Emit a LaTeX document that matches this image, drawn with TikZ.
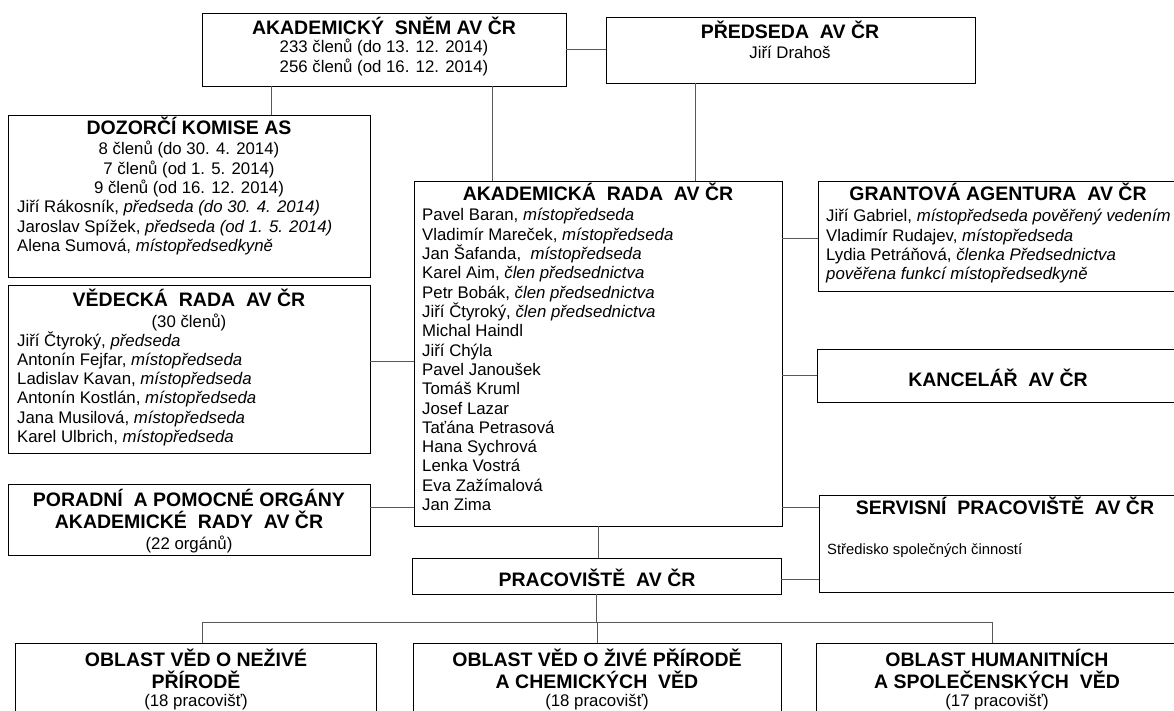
\documentclass[tikz,border=0pt]{standalone}
\usepackage{fontspec}
\setmainfont{Liberation Sans}
\usetikzlibrary{shadows}
\newcommand{\mylines}[5]{%
  \foreach \myline [count=\i from 0] in {#5} {%
    \node[txt, anchor=#4] (#1\i) at (#2, #3+19.3*\i) {\myline};}}
\begin{document}
\begin{tikzpicture}[x=1pt,y=-1pt,
  box/.style={draw=black, line width=0.9pt, fill=white, inner sep=0pt, outer sep=0pt,
    drop shadow={shadow xshift=1.3pt, shadow yshift=-1.3pt, fill=black!60, opacity=1}},
  conn/.style={draw=black!65, line width=0.9pt},
  ttl/.style={inner sep=0pt, font=\fontsize{19.5}{22}\bfseries\selectfont},
  txt/.style={inner sep=0pt, font=\fontsize{16.8}{19.3}\selectfont},
  small/.style={inner sep=0pt, font=\fontsize{14.8}{17}\selectfont}]
\useasboundingbox (0,0) rectangle (1174,711);
\fill[white] (0,0) rectangle (1174,711);

% boxes
\node[box, minimum width=364pt, minimum height=73pt] (snem) at (384,49.5) {};
\node[box, minimum width=369pt, minimum height=66pt] (pred) at (790.5,50) {};
\node[box, minimum width=362pt, minimum height=162pt] (dozor) at (189,196) {};
\node[box, minimum width=368pt, minimum height=345pt] (ar) at (598,353.5) {};
\node[box, minimum width=362pt, minimum height=110pt] (grant) at (999,236) {};
\node[box, minimum width=362pt, minimum height=168pt] (ved) at (189,369) {};
\node[box, minimum width=362pt, minimum height=71pt] (porad) at (189,519.5) {};
\node[box, minimum width=363pt, minimum height=53pt] (kanc) at (998.5,375.5) {};
\node[box, minimum width=361pt, minimum height=97pt] (serv) at (999.5,543.5) {};
\node[box, minimum width=369pt, minimum height=36pt] (prac) at (596.5,576) {};
\node[box, minimum width=361pt, minimum height=77pt] (ob1) at (195.5,681.5) {};
\node[box, minimum width=368pt, minimum height=77pt] (ob2) at (597,681.5) {};
\node[box, minimum width=364pt, minimum height=77pt] (ob3) at (998,681.5) {};

% helper coordinates
\coordinate (xa) at (271,0);
\coordinate (xb) at (492,0);
\coordinate (xc) at (695,0);
\coordinate (xl) at (202,0);
\coordinate (xr) at (992,0);
\coordinate (yg) at (0,238);
\coordinate (yv) at (0,361);
\coordinate (yp) at (0,507);
\coordinate (ys) at (0,579);
\coordinate (bus) at (597,622);

% connectors
\draw[conn] (snem.east) -- (snem.east -| pred.west);
\draw[conn] (snem.south -| xa) -- (dozor.north -| xa);
\draw[conn] (snem.south -| xb) -- (ar.north -| xb);
\draw[conn] (pred.south -| xc) -- (ar.north -| xc);
\draw[conn] (ar.east |- yg) -- (grant.west |- yg);
\draw[conn] (ar.east |- kanc.west) -- (kanc.west);
\draw[conn] (ved.east |- yv) -- (ar.west |- yv);
\draw[conn] (porad.east |- yp) -- (ar.west |- yp);
\draw[conn] (ar.east |- yp) -- (serv.west |- yp);
\draw[conn] (prac.east |- ys) -- (serv.west |- ys);
\draw[conn] (ar.south) -- (ar.south |- prac.north);
\draw[conn] (prac.south) -- (prac.south |- bus);
\draw[conn] (bus -| xl) -- (bus -| xr);
\draw[conn] (bus -| xl) -- (ob1.north -| xl);
\draw[conn] (bus) -- (ob2.north |- bus) -- (ob2.north);
\draw[conn] (bus -| xr) -- (ob3.north -| xr);

% texts
\node[ttl, anchor=base] (snemT) at (384,35) {AKADEMICKÝ~ SNĚM AV ČR};
\node[txt, anchor=base] (snem1) at (384,53) {233 členů (do 13. 12. 2014)};
\node[txt, anchor=base] (snem2) at (384,73) {256 členů (od 16. 12. 2014)};

\node[ttl, anchor=base] (predT) at (790,39) {PŘEDSEDA~ AV ČR};
\node[txt, anchor=base] (pred1) at (790,59) {Jiří Drahoš};

\node[ttl, anchor=base] (dozorT) at (189,135) {DOZORČÍ KOMISE AS};
\mylines{dozc}{189}{155}{base}{{8 členů (do 30. 4. 2014)},{7 členů (od 1. 5. 2014)},{9 členů (od 16. 12. 2014)}}
\mylines{dozl}{17}{212.9}{base west}{{Jiří Rákosník, \textit{předseda (do 30. 4. 2014)}},{Jaroslav Spížek, \textit{předseda (od 1. 5. 2014)}},{Alena Sumová, \textit{místopředsedkyně}}}

\node[ttl, anchor=base] (vedT) at (189,306) {VĚDECKÁ~ RADA~ AV ČR};
\node[txt, anchor=base] (ved0) at (189,327) {(30 členů)};
\mylines{vedl}{17}{346}{base west}{{Jiří Čtyroký, \textit{předseda}},{Antonín Fejfar, \textit{místopředseda}},{Ladislav Kavan, \textit{místopředseda}},{Antonín Kostlán, \textit{místopředseda}},{Jana Musilová, \textit{místopředseda}},{Karel Ulbrich, \textit{místopředseda}}}

\node[ttl, anchor=base] (poradT1) at (189,506) {PORADNÍ~ A POMOCNÉ ORGÁNY};
\node[ttl, anchor=base] (poradT2) at (189,528) {AKADEMICKÉ~ RADY~ AV ČR};
\node[txt, anchor=base] (porad1) at (189,549) {(22 orgánů)};

\node[ttl, anchor=base] (arT) at (598,201) {AKADEMICKÁ~ RADA~ AV ČR};
\mylines{arl}{422}{221}{base west}{{Pavel Baran, \textit{místopředseda}},{Vladimír Mareček, \textit{místopředseda}},{Jan Šafanda,~ \textit{místopředseda}},{Karel Aim, \textit{člen předsednictva}},{Petr Bobák, \textit{člen předsednictva}},{Jiří Čtyroký, \textit{člen předsednictva}},{Michal Haindl},{Jiří Chýla},{Pavel Janoušek},{Tomáš Kruml},{Josef Lazar},{Taťána Petrasová},{Hana Sychrová},{Lenka Vostrá},{Eva Zažímalová},{Jan Zima}}

\node[ttl, anchor=base] (grantT) at (998,201) {GRANTOVÁ AGENTURA~ AV ČR};
\mylines{grl}{826}{222}{base west}{{Jiří Gabriel, \textit{místopředseda pověřený vedením}},{Vladimír Rudajev, \textit{místopředseda}},{Lydia Petráňová, \textit{členka Předsednictva}},{\textit{pověřena funkcí místopředsedkyně}}}

\node[ttl, anchor=base] (kancT) at (998,386) {KANCELÁŘ~ AV ČR};

\node[ttl, anchor=base] (servT) at (1005,514) {SERVISNÍ~ PRACOVIŠTĚ~ AV ČR};
\node[small, anchor=base west] (serv1) at (827,554) {Středisko společných činností};

\node[ttl, anchor=base] (pracT) at (597,586) {PRACOVIŠTĚ~ AV ČR};

\node[ttl, anchor=base] (ob1a) at (196,666) {OBLAST VĚD O NEŽIVÉ};
\node[ttl, anchor=base] (ob1b) at (196,688) {PŘÍRODĚ};
\node[txt, anchor=base] (ob1c) at (196,706.5) {(18 pracovišť)};
\node[ttl, anchor=base] (ob2a) at (597,666) {OBLAST VĚD O ŽIVÉ PŘÍRODĚ};
\node[ttl, anchor=base] (ob2b) at (597,688) {A CHEMICKÝCH~ VĚD};
\node[txt, anchor=base] (ob2c) at (597,706.5) {(18 pracovišť)};
\node[ttl, anchor=base] (ob3a) at (997,666) {OBLAST HUMANITNÍCH};
\node[ttl, anchor=base] (ob3b) at (997,688) {A SPOLEČENSKÝCH~ VĚD};
\node[txt, anchor=base] (ob3c) at (997,706.5) {(17 pracovišť)};
\end{tikzpicture}
\end{document}
